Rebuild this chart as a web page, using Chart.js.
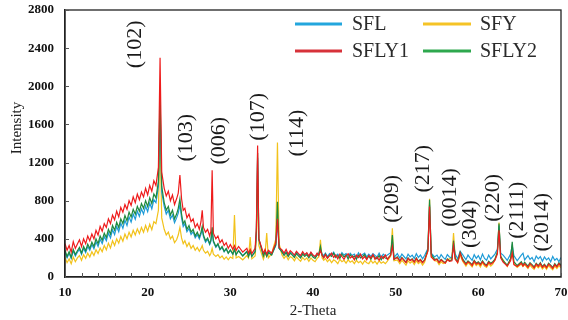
<!DOCTYPE html>
<html lang="en">
<head>
    <meta charset="UTF-8">
    <title>XRD</title>
    <script src="https://cdn.jsdelivr.net/npm/chart.js"></script>
    <style>
        html, body { margin: 0; padding: 0; background: #fff; }
        #wrap { width: 568px; height: 320px; }
    </style>
</head>
<body>
<div id="wrap"><canvas id="xrd"></canvas></div>

<script>
    // 2-theta positions (0.25 steps, extra points around the peaks)
    const theta = [
        10, 10.25, 10.5, 10.75, 11, 11.25, 11.5, 11.75, 12, 12.25, 12.5, 12.75, 13, 13.25, 13.5, 13.75, 14, 14.25, 14.5, 14.75, 15, 15.25, 15.5,
        15.75, 16, 16.25, 16.5, 16.75, 17, 17.25, 17.5, 17.75, 18, 18.25, 18.5, 18.75, 19, 19.25, 19.5, 19.75, 20, 20.25, 20.5, 20.75, 21,
        21.3, 21.5, 21.7, 22, 22.25, 22.5, 22.75, 23, 23.25, 23.5, 23.7, 23.9, 24.1, 24.3, 24.5, 24.75, 25, 25.25, 25.5, 25.75, 26,
        26.25, 26.45, 26.6, 26.75, 27, 27.25, 27.5, 27.65, 27.8, 27.95, 28.25, 28.5, 28.75, 29, 29.25, 29.5, 29.75, 30,
        30.3, 30.5, 30.7, 31, 31.5, 32, 32.2, 32.4, 32.6, 33, 33.15, 33.3, 33.45,
        34, 34.2, 34.4, 34.6, 35, 35.5, 35.7, 35.9,
        36.25, 36.5, 36.75, 37, 37.25, 37.5, 37.75, 38, 38.25, 38.5, 38.75, 39, 39.25, 39.5, 39.75, 40, 40.25, 40.5,
        40.7, 40.9, 41.1, 41.3, 41.5, 41.75, 42, 42.25, 42.5, 42.75, 43, 43.25, 43.5, 43.75, 44, 44.25, 44.5, 44.75,
        45, 45.25, 45.5, 45.75, 46, 46.25, 46.5, 46.75, 47, 47.25, 47.5, 47.75, 48, 48.25, 48.5, 48.75, 49,
        49.4, 49.6, 49.8, 50.2, 50.5, 50.75, 51, 51.25, 51.5, 51.75, 52, 52.25, 52.5, 52.75, 53, 53.25, 53.5,
        53.9, 54.1, 54.3, 54.7, 55, 55.25, 55.5, 55.75, 56, 56.25, 56.5,
        56.8, 57, 57.2, 57.5, 57.8, 58.1, 58.5, 58.75, 59, 59.25, 59.5, 59.75, 60, 60.25, 60.5, 60.75, 61, 61.25, 61.5, 61.75, 62,
        62.3, 62.5, 62.7, 63, 63.5, 63.9, 64.1, 64.3, 64.7, 65.2, 65.4, 65.6,
        66, 66.25, 66.5, 66.75, 67, 67.25, 67.5, 67.75, 68, 68.25, 68.5, 68.75, 69, 69.25, 69.5, 69.75, 70
    ];

    const sfl = [
        265, 200, 250, 195, 275, 220, 260, 290, 235, 300, 255, 320, 280, 340, 295, 370, 320, 395, 350, 425, 380, 460, 410,
        495, 445, 530, 475, 565, 510, 595, 540, 630, 575, 660, 605, 690, 635, 715, 660, 745, 685, 775, 715, 810, 780,
        950, 1800, 890, 740, 660, 700, 610, 650, 570, 620, 670, 760, 620, 530, 560, 475, 510, 445, 475, 410, 445,
        400, 450, 500, 420, 365, 395, 340, 375, 480, 365, 310, 340, 285, 310, 265, 295, 250, 280,
        240, 285, 235, 280, 225, 270, 220, 270, 220, 270, 460, 1250, 390,
        230, 270, 225, 265, 235, 330, 570, 300,
        270, 240, 265, 230, 260, 245, 220, 260, 235, 215, 255, 230, 250, 215, 255, 225, 210, 245,
        245, 290, 240, 225, 250, 215, 245, 230, 260, 220, 240, 210, 255, 230, 245, 215, 250, 225,
        240, 205, 255, 220, 235, 250, 210, 240, 215, 245, 225, 210, 250, 205, 240, 220, 230,
        255, 380, 205, 245, 200, 240, 215, 190, 240, 210, 230, 195, 245, 205, 230, 190, 225,
        300, 760, 250, 210, 230, 190, 235, 205, 185, 235, 210,
        200, 350, 245, 190, 270, 235, 180, 230, 200, 175, 235, 195, 225, 180, 240, 195, 175, 230, 190, 215, 240,
        290, 540, 250, 230, 175, 240, 330, 225, 170, 230, 250, 180,
        225, 185, 205, 160, 220, 190, 215, 165, 210, 180, 200, 160, 215, 175, 195, 160, 205
    ];

    const sfy = [
        205, 150, 190, 140, 210, 160, 200, 225, 175, 235, 195, 250, 210, 265, 225, 285, 245, 305, 265, 330, 285, 355, 305,
        380, 330, 400, 355, 425, 375, 450, 400, 470, 420, 490, 440, 505, 455, 520, 470, 540, 480, 555, 495, 580, 560,
        700, 1450, 620, 500, 440, 470, 400, 430, 360, 390, 440, 520, 410, 350, 380, 320, 360, 300, 330, 280, 310,
        270, 300, 330, 280, 250, 270, 225, 250, 300, 240, 215, 235, 200, 220, 185, 210, 180, 210,
        195, 650, 200, 215, 180, 225, 200, 420, 190, 220, 400, 900, 330,
        185, 240, 460, 200, 245, 400, 1410, 350,
        230, 195, 225, 180, 215, 200, 170, 210, 185, 165, 205, 180, 200, 165, 200, 175, 160, 195,
        210, 390, 200, 175, 195, 160, 185, 150, 180, 165, 140, 185, 160, 175, 145, 180, 155, 170,
        140, 175, 150, 165, 135, 170, 150, 140, 175, 145, 165, 135, 170, 145, 160, 140, 165,
        220, 510, 170, 180, 140, 175, 150, 125, 170, 145, 165, 130, 170, 140, 160, 125, 155,
        280, 820, 220, 170, 165, 130, 160, 140, 150, 175, 190,
        200, 460, 210, 150, 230, 165, 115, 150, 130, 105, 150, 120, 140, 105, 150, 115, 100, 140, 115, 135, 180,
        260, 570, 210, 180, 110, 190, 300, 140, 100, 135, 110, 130,
        90, 125, 100, 80, 120, 95, 120, 85, 110, 80, 120, 95, 75, 115, 90, 120, 95
    ];

    const sfly1 = [
        350, 280, 330, 260, 370, 300, 345, 390, 320, 400, 350, 430, 380, 450, 400, 490, 440, 530, 480, 560, 520, 610, 560,
        650, 600, 690, 630, 730, 680, 760, 710, 800, 750, 840, 780, 870, 810, 890, 840, 930, 860, 960, 900, 1010, 960,
        1150, 2300, 1100, 930, 850, 900, 800, 860, 760, 820, 880, 1070, 820, 700, 720, 620, 660, 580, 610, 520, 560,
        500, 580, 700, 520, 470, 500, 430, 480, 1120, 460, 400, 430, 360, 390, 330, 360, 300, 340,
        290, 330, 280, 320, 260, 300, 250, 290, 245, 300, 520, 1380, 400,
        250, 290, 240, 280, 250, 360, 610, 310,
        285, 250, 290, 240, 275, 255, 230, 270, 245, 225, 265, 235, 255, 220, 260, 230, 215, 250,
        225, 275, 230, 200, 235, 195, 225, 250, 205, 230, 190, 240, 215, 185, 225, 245, 200, 220,
        180, 230, 205, 240, 190, 215, 180, 225, 200, 235, 185, 210, 175, 220, 195, 230, 185,
        230, 320, 185, 205, 165, 200, 175, 150, 195, 170, 185, 155, 195, 160, 180, 150, 175,
        270, 740, 210, 175, 185, 150, 180, 160, 145, 185, 165,
        170, 330, 185, 150, 250, 175, 130, 160, 145, 120, 165, 135, 150, 125, 160, 130, 115, 155, 135, 150, 175,
        240, 490, 200, 155, 115, 170, 250, 130, 110, 145, 115, 140,
        100, 140, 120, 95, 135, 110, 140, 100, 125, 95, 135, 115, 90, 130, 105, 140, 110
    ];

    const sfly2 = [
        280, 215, 265, 205, 290, 235, 275, 310, 250, 320, 275, 345, 300, 365, 320, 400, 350, 430, 385, 460, 415, 500, 450,
        540, 490, 575, 520, 610, 560, 645, 590, 680, 630, 710, 660, 740, 690, 770, 720, 800, 740, 830, 770, 870, 830,
        1000, 1920, 950, 780, 700, 740, 650, 700, 610, 660, 720, 820, 660, 560, 590, 500, 540, 470, 500, 430, 470,
        420, 470, 530, 440, 380, 410, 350, 390, 520, 380, 320, 350, 290, 320, 270, 300, 250, 285,
        240, 290, 235, 275, 220, 265, 215, 270, 215, 265, 480, 1300, 400,
        220, 265, 215, 255, 230, 340, 790, 300,
        260, 225, 255, 215, 250, 230, 205, 245, 220, 200, 240, 215, 235, 200, 240, 210, 195, 230,
        235, 320, 225, 205, 240, 200, 230, 215, 250, 205, 225, 195, 240, 210, 230, 190, 235, 205,
        220, 185, 230, 200, 215, 235, 190, 220, 185, 225, 205, 190, 225, 180, 215, 200, 190,
        230, 440, 185, 210, 170, 205, 180, 155, 200, 175, 190, 160, 200, 165, 185, 155, 180,
        290, 810, 240, 185, 190, 155, 185, 165, 150, 190, 170,
        180, 380, 195, 160, 260, 190, 140, 170, 150, 130, 175, 145, 160, 135, 170, 140, 125, 165, 145, 160, 185,
        260, 560, 220, 170, 125, 190, 370, 160, 120, 160, 125, 155,
        115, 150, 130, 105, 145, 120, 150, 110, 135, 105, 145, 125, 100, 140, 115, 150, 125
    ];

    const seriesNames = ['SFL', 'SFY', 'SFLY1', 'SFLY2'];
    const seriesColors = ['#1e9bd7', '#f2c21b', '#ee1c1c', '#1f8a3e'];
    const legendColors = ['#23a6dd', '#f5c326', '#d7323a', '#2ea84e'];

    // peak indices, written along the pattern
    const peakLabels = ['(102)', '(103)', '(006)', '(107)', '(114)', '(209)', '(217)', '(0014)', '(304)', '(220)', '(2111)', '(2014)'];
    const peakTheta = [18.5, 24.65, 28.65, 33.35, 38.05, 49.55, 53.3, 56.55, 59.0, 61.75, 64.65, 67.7];
    const peakLabelY = [2440, 1460, 1430, 1680, 1510, 820, 1135, 835, 555, 830, 700, 575];

    const serif = '"Liberation Serif", "Times New Roman", serif';

    function toPoints(vals) {
        return theta.map((t, i) => ({ x: t, y: vals[i] }));
    }

    const allSeries = [sfl, sfy, sfly1, sfly2];
    const drawOrder = [2, 3, 0, 1]; // red on top, then green, blue, yellow

    const datasets = allSeries.map((vals, i) => ({
        label: seriesNames[i],
        data: toPoints(vals),
        borderColor: seriesColors[i],
        backgroundColor: seriesColors[i],
        borderWidth: 1.2,
        pointRadius: 0,
        tension: 0,
        order: drawOrder[i]
    }));

    // box, inward ticks, legend, peak labels and axis titles
    const decorations = {
        id: 'decorations',
        afterDraw(chart) {
            const ctx = chart.ctx;
            const a = chart.chartArea;
            const xs = chart.scales.x, ys = chart.scales.y;
            ctx.save();

            ctx.strokeStyle = '#222';
            ctx.lineWidth = 1.3;
            ctx.strokeRect(a.left, a.top, a.right - a.left, a.bottom - a.top);

            ctx.lineWidth = 1;
            ctx.strokeStyle = '#555';
            ctx.beginPath();
            xs.ticks.forEach(t => {
                const px = Math.round(xs.getPixelForValue(t.value)) + 0.5;
                ctx.moveTo(px, a.bottom);
                ctx.lineTo(px, a.bottom - 4);
            });
            ys.ticks.forEach(t => {
                const py = Math.round(ys.getPixelForValue(t.value)) + 0.5;
                ctx.moveTo(a.left, py);
                ctx.lineTo(a.left + 4, py);
            });
            ctx.stroke();

            // legend, 2 x 2
            const cols = [[295, 342, 352], [423, 471, 480]];
            const rows = [24, 51];
            ctx.font = '20px ' + serif;
            ctx.textBaseline = 'middle';
            ctx.textAlign = 'left';
            seriesNames.forEach((name, i) => {
                const c = cols[i % 2], y = rows[Math.floor(i / 2)];
                ctx.strokeStyle = legendColors[i];
                ctx.lineWidth = 3;
                ctx.beginPath();
                ctx.moveTo(c[0], y);
                ctx.lineTo(c[1], y);
                ctx.stroke();
                ctx.fillStyle = '#2a2a2a';
                ctx.fillText(name, c[2], y + 1);
            });

            // peak labels
            ctx.font = '22px ' + serif;
            ctx.fillStyle = '#1a1a1a';
            ctx.textAlign = 'center';
            peakLabels.forEach((lab, i) => {
                ctx.save();
                ctx.translate(xs.getPixelForValue(peakTheta[i]), ys.getPixelForValue(peakLabelY[i]));
                ctx.rotate(-Math.PI / 2);
                ctx.fillText(lab, 0, 0);
                ctx.restore();
            });

            // axis titles
            ctx.font = '15px ' + serif;
            ctx.fillStyle = '#222';
            ctx.fillText('2-Theta', (a.left + a.right) / 2, 311);
            ctx.save();
            ctx.translate(17, 128);
            ctx.rotate(-Math.PI / 2);
            ctx.fillText('Intensity', 0, 0);
            ctx.restore();

            ctx.restore();
        }
    };

    const tickFont = { family: serif, size: 13, weight: 'bold' };

    new Chart(document.getElementById('xrd'), {
        type: 'line',
        data: { datasets: datasets },
        options: {
            responsive: true,
            maintainAspectRatio: false,
            animation: false,
            layout: { padding: { top: 10, right: 7, left: 0, bottom: 0 } },
            plugins: { legend: { display: false }, tooltip: { enabled: false } },
            scales: {
                x: {
                    type: 'linear',
                    min: 10, max: 70,
                    afterFit: s => { s.height = 43; s.paddingLeft = 0; s.paddingRight = 0; },
                    ticks: {
                        stepSize: 2,
                        autoSkip: false,
                        maxRotation: 0,
                        padding: 8,
                        color: '#111',
                        font: tickFont,
                        callback: v => (v % 10 === 0 ? String(v) : '')
                    },
                    grid: { drawOnChartArea: false, drawTicks: false },
                    border: { color: '#222', width: 1.3 }
                },
                y: {
                    min: 0, max: 2800,
                    afterFit: s => { s.width = 65; s.paddingTop = 0; s.paddingBottom = 0; },
                    ticks: { stepSize: 400, padding: 11, color: '#111', font: tickFont, callback: v => String(v) },
                    grid: { drawOnChartArea: false, drawTicks: false },
                    border: { color: '#222', width: 1.3 }
                }
            }
        },
        plugins: [decorations]
    });
</script>
</body>
</html>
